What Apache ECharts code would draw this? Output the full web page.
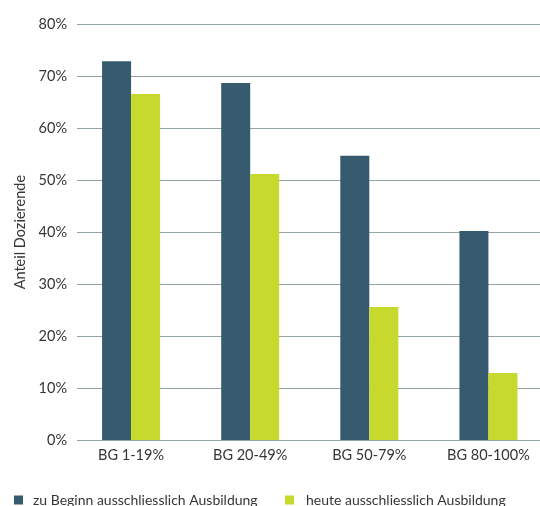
<!DOCTYPE html>
<html>
<head>
<meta charset="utf-8">
<script src="https://cdn.jsdelivr.net/npm/echarts@6/dist/echarts.min.js"></script>
<style>
  html, body { margin: 0; padding: 0; background: #fff; overflow: hidden; }
  /* the plot area runs slightly past the right edge of the window */
  #chart { width: 548px; height: 506px; }
</style>
</head>
<body>
<div id="chart"></div>
<script>
// Bereiche der Beschäftigungsgrade
const categories = ['BG 1-19%', 'BG 20-49%', 'BG 50-79%', 'BG 80-100%'];
// Anteil Dozierende in Prozent
const zuBeginn = [72.9, 68.7, 54.7, 40.2];
const heute = [66.6, 51.2, 25.6, 12.9];
const seriesNames = ['zu Beginn ausschliesslich Ausbildung', 'heute ausschliesslich Ausbildung'];
const yTicks = [0, 10, 20, 30, 40, 50, 60, 70, 80];

const DARK = '#365B6E';
const GREEN = '#C6D92C';
const FONT = 'Lato, "Open Sans", sans-serif';
const TEXT = '#363636';

const chart = echarts.init(document.getElementById('chart'), null, { renderer: 'canvas' });

const option = {
  animation: false,
  textStyle: { fontFamily: FONT },
  grid: [
    // bars
    { left: 71.5, right: 0, top: 24.3, bottom: 66 },
    // value axis with grid lines
    { left: 77, right: 8, top: 24.3, bottom: 66 }
  ],
  xAxis: [
    {
      gridIndex: 0,
      type: 'category',
      data: categories,
      axisLine: { show: false },
      axisTick: { show: false },
      axisLabel: { color: TEXT, fontSize: 14.5, margin: 8, fontFamily: FONT }
    },
    {
      gridIndex: 1,
      type: 'value',
      show: false
    }
  ],
  yAxis: [
    {
      gridIndex: 0,
      type: 'value',
      min: yTicks[0],
      max: yTicks[yTicks.length - 1],
      interval: 10,
      show: false,
      splitLine: { show: false }
    },
    {
      gridIndex: 1,
      type: 'value',
      min: yTicks[0],
      max: yTicks[yTicks.length - 1],
      interval: 10,
      name: 'Anteil Dozierende',
      nameLocation: 'middle',
      nameGap: 49,
      nameRotate: 90,
      nameTextStyle: { color: TEXT, fontSize: 14.5, fontFamily: FONT },
      axisLine: { show: false },
      axisTick: { show: false },
      axisLabel: {
        color: TEXT,
        fontSize: 14.5,
        margin: 10,
        fontFamily: FONT,
        formatter: v => v + '%'
      },
      splitLine: { show: true, lineStyle: { color: '#95a2a8', width: 1 } }
    }
  ],
  legend: [
    {
      data: [seriesNames[0]],
      left: 14,
      top: 492,
      padding: 0,
      itemWidth: 9,
      itemHeight: 9,
      icon: 'rect',
      textStyle: { color: TEXT, fontSize: 14, lineHeight: 16, padding: [0, 0, 0, 5], fontFamily: FONT }
    },
    {
      data: [seriesNames[1]],
      left: 285,
      top: 492,
      padding: 0,
      itemWidth: 9,
      itemHeight: 9,
      icon: 'rect',
      textStyle: { color: TEXT, fontSize: 14, lineHeight: 16, padding: [0, 0, 0, 7], fontFamily: FONT }
    }
  ],
  series: [
    {
      name: seriesNames[0],
      type: 'bar',
      xAxisIndex: 0,
      yAxisIndex: 0,
      data: zuBeginn,
      barWidth: 29,
      barGap: '0%',
      itemStyle: { color: DARK }
    },
    {
      name: seriesNames[1],
      type: 'bar',
      xAxisIndex: 0,
      yAxisIndex: 0,
      data: heute,
      barWidth: 29,
      barGap: '0%',
      itemStyle: { color: GREEN }
    }
  ]
};

chart.setOption(option);
</script>
</body>
</html>
